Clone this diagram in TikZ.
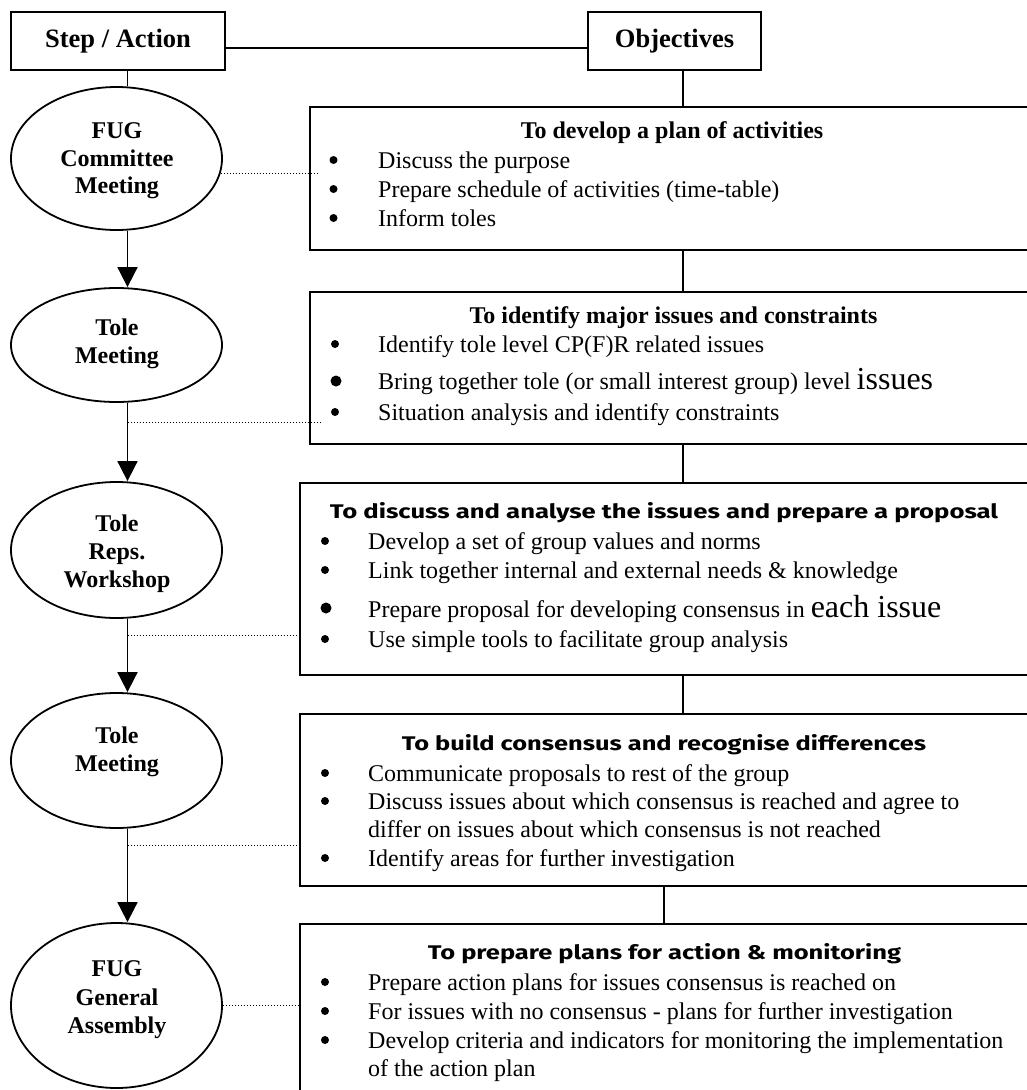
\documentclass[tikz,border=0pt]{standalone}
\usepackage{fontspec}
\setmainfont{Liberation Serif}
\newfontfamily\comicfont{Fira Sans}
\usetikzlibrary{arrows.meta,shapes.geometric}
\newcommand{\cmtitle}[2]{\resizebox{#1}{16pt}{\comicfont\bfseries #2}}
\newcommand{\bigsz}{\fontsize{32pt}{32pt}\selectfont}
\begin{document}
\begin{tikzpicture}[x=1pt,y=-1pt,
  hdr/.style={draw, line width=1.8pt, inner sep=0, font=\bfseries\fontsize{26.5pt}{30pt}\selectfont},
  objbox/.style={draw, line width=1.8pt, anchor=north west, minimum width=745pt, inner sep=0},
  stepov/.style={draw, ellipse, line width=1.8pt, inner sep=0, minimum width=211pt},
  link/.style={line width=1.8pt},
  flow/.style={line width=1.8pt, -{Triangle[length=20pt,width=20pt]}},
  dots/.style={line width=1pt, dash pattern=on 1pt off 2pt},
  body/.style={anchor=base west, inner sep=0, font=\fontsize{24pt}{28pt}\selectfont},
  bul/.style={circle, fill, inner sep=0, minimum size=8pt},
  bigbul/.style={circle, fill, inner sep=0, minimum size=11pt},
  sttxt/.style={anchor=base, inner sep=0, font=\bfseries\fontsize{24pt}{28pt}\selectfont},
  ttl/.style={anchor=base, inner sep=0, font=\bfseries\fontsize{24pt}{28pt}\selectfont},
  cttl/.style={anchor=base, inner sep=0},
]
\useasboundingbox (0,0) rectangle (1027,1090);
\clip (0,0) rectangle (1027,1090);

% headers
\node[hdr, minimum width=214pt, minimum height=58pt] (sa) at (118,41) {Step / Action};
\node[hdr, minimum width=173pt, minimum height=58pt] (ob) at (674.5,41) {Objectives};

\coordinate (ax) at (127.5,0);
\coordinate (bx) at (683,0);
\coordinate (cx) at (664,0);

% objective boxes
\node[objbox, minimum height=143pt] (b1) at (309,106) {};
\node[objbox, minimum height=152pt] (b2) at (309,291) {};
\node[objbox, minimum height=192pt] (b3) at (299,482) {};
\node[objbox, minimum height=172pt] (b4) at (299,713) {};
\node[objbox, minimum height=220pt] (b5) at (299,923) {};

% step ellipses
\node[stepov, minimum height=143pt] (e1) at (116.5,158.5) {};
\node[stepov, minimum height=114pt] (e2) at (116.5,345) {};
\node[stepov, minimum height=136pt] (e3) at (116.5,550) {};
\node[stepov, minimum height=135pt] (e4) at (116.5,760.5) {};
\node[stepov, minimum height=165pt] (e5) at (116.5,1005.5) {};

% ellipse texts
\node[sttxt] (e1a) at (117,138) {FUG};
\node[sttxt] (e1b) at (117,166) {Committee};
\node[sttxt] (e1c) at (117,193) {Meeting};
\node[sttxt] (e2a) at (117,335) {Tole};
\node[sttxt] (e2b) at (117,363) {Meeting};
\node[sttxt] (e3a) at (117,531) {Tole};
\node[sttxt] (e3b) at (117,559) {Reps.};
\node[sttxt] (e3c) at (117,587) {Workshop};
\node[sttxt] (e4a) at (117,743) {Tole};
\node[sttxt] (e4b) at (117,771) {Meeting};
\node[sttxt] (e5a) at (117,976) {FUG};
\node[sttxt] (e5b) at (117,1005) {General};
\node[sttxt] (e5c) at (117,1033) {Assembly};

% connectors
\draw[link] ([yshift=-7pt]sa.east) -- ([yshift=-7pt]ob.west);
\draw[link] (sa.south -| ax) -- (e1.north -| ax);
\draw[link] (ob.south -| bx) -- (b1.north -| bx);
\draw[link] (b1.south -| bx) -- (b2.north -| bx);
\draw[link] (b2.south -| bx) -- (b3.north -| bx);
\draw[link] (b3.south -| bx) -- (b4.north -| bx);
\draw[link] (b4.south -| cx) -- (b5.north -| cx);
\draw[flow] (e1.south -| ax) -- (e2.north -| ax);
\draw[flow] (e2.south -| ax) -- (e3.north -| ax);
\draw[flow] (e3.south -| ax) -- (e4.north -| ax);
\draw[flow] (e4.south -| ax) -- (e5.north -| ax);

% dotted links
\coordinate (d1e) at (318,174);
\draw[dots] (e1.-8.6) -- (e1.-8.6 -| d1e);
\coordinate (d2s) at (127.5,422);
\coordinate (d2e) at (322,422);
\draw[dots] (d2s) -- (d2e);
\coordinate (d3s) at (127.5,635);
\draw[dots] (d3s) -- (d3s -| b3.west);
\coordinate (d4s) at (127.5,845);
\draw[dots] (d4s) -- (d4s -| b4.west);
\draw[dots] (e5.east) -- (e5.east -| b5.west);

% box 1
\node[ttl] (t1) at (672,138) {To develop a plan of activities};
\node[bul] (p11) at (333.5,160) {};
\node[body] (l11) at (378,168) {Discuss the purpose};
\node[bul] (p12) at (333.5,189) {};
\node[body] (l12) at (378,197) {Prepare schedule of activities (time-table)};
\node[bul] (p13) at (333.5,218) {};
\node[body] (l13) at (378,226) {Inform toles};

% box 2
\node[ttl] (t2) at (673.5,323) {To identify major issues and constraints};
\node[bul] (p21) at (335,344) {};
\node[body] (l21) at (378,352) {Identify tole level CP(F)R related issues};
\node[bigbul] (p22) at (336,381) {};
\node[body] (l22) at (378,389) {Bring together tole (or small interest group) level {\bigsz issues}};
\node[bul] (p23) at (335,412) {};
\node[body] (l23) at (378,420) {Situation analysis and identify constraints};

% box 3
\node[cttl] (t3) at (664,518) {\cmtitle{668pt}{To discuss and analyse the issues and prepare a proposal}};
\node[bul] (p31) at (325,541) {};
\node[body] (l31) at (368,549) {Develop a set of group values and norms};
\node[bul] (p32) at (325,570) {};
\node[body] (l32) at (368,578) {Link together internal and external needs \& knowledge};
\node[bigbul] (p33) at (326,608) {};
\node[body] (l33) at (368,617) {Prepare proposal for developing consensus in {\bigsz each issue}};
\node[bul] (p34) at (325,639) {};
\node[body] (l34) at (368,647) {Use simple tools to facilitate group analysis};

% box 4
\node[cttl] (t4) at (664,750) {\cmtitle{524pt}{To build consensus and recognise differences}};
\node[bul] (p41) at (325,773) {};
\node[body] (l41) at (368,781) {Communicate proposals to rest of the group};
\node[bul] (p42) at (325,801) {};
\node[body] (l42) at (368,809) {Discuss issues about which consensus is reached and agree to};
\node[body] (l42b) at (368,837) {differ on issues about which consensus is not reached};
\node[bul] (p43) at (325,858) {};
\node[body] (l43) at (368,866) {Identify areas for further investigation};

% box 5
\node[cttl] (t5) at (664.5,959) {\cmtitle{473pt}{To prepare plans for action \& monitoring}};
\node[bul] (p51) at (325,982) {};
\node[body] (l51) at (368,990) {Prepare action plans for issues consensus is reached on};
\node[bul] (p52) at (325,1011) {};
\node[body] (l52) at (368,1019) {For issues with no consensus - plans for further investigation};
\node[bul] (p53) at (325,1040) {};
\node[body] (l53) at (368,1048) {Develop criteria and indicators for monitoring the implementation};
\node[body] (l53b) at (368,1076) {of the action plan};
\end{tikzpicture}
\end{document}
